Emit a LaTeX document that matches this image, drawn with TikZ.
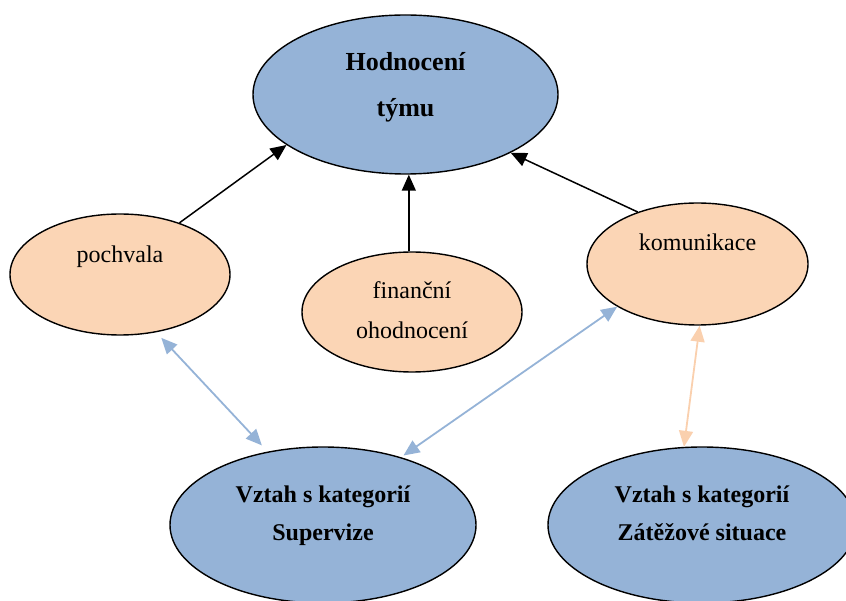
\documentclass[tikz,border=0pt]{standalone}
\usepackage{fontspec}
\setmainfont{Liberation Serif}
\usetikzlibrary{shapes.geometric,arrows.meta}
\definecolor{bluefill}{HTML}{95B3D7}
\definecolor{peachfill}{HTML}{FBD5B5}
\definecolor{peachline}{HTML}{FAD0AE}
\begin{document}
\begin{tikzpicture}[x=1pt,y=-1pt,
  oval/.style={ellipse, draw=black, line width=1.4pt, inner sep=0pt},
  hub/.style={oval, fill=bluefill},
  leaf/.style={oval, fill=peachfill},
  boldlbl/.style={anchor=base, inner sep=0pt, font=\fontsize{24}{28}\selectfont\bfseries},
  titlelbl/.style={anchor=base, inner sep=0pt, font=\fontsize{26}{30}\selectfont\bfseries},
  plainlbl/.style={anchor=base, inner sep=0pt, font=\fontsize{24}{28}\selectfont},
  blackarrow/.style={draw=black, line width=1.5pt, -{Triangle[length=16pt,width=14pt]}},
  bluearrow/.style={draw=bluefill, line width=1.8pt, {Triangle[length=16pt,width=14pt]}-{Triangle[length=16pt,width=14pt]}},
  peacharrow/.style={draw=peachline, line width=1.8pt, {Triangle[length=16pt,width=14pt]}-{Triangle[length=16pt,width=14pt]}}
]
\useasboundingbox (0,0) rectangle (846,601);
\clip (0,0) rectangle (846,601);

% ovals
\node[hub, minimum width=305pt, minimum height=159pt] (team) at (405.5,94.5) {};
\node[leaf, minimum width=220pt, minimum height=121pt] (praise) at (120,274.5) {};
\node[leaf, minimum width=220pt, minimum height=120pt] (finance) at (412,312) {};
\node[leaf, minimum width=221pt, minimum height=122pt] (comm) at (697.5,264) {};
\node[hub, minimum width=306pt, minimum height=156pt] (superv) at (323,525) {};
\node[hub, minimum width=308pt, minimum height=156pt] (stress) at (702,525) {};

% labels
\node[titlelbl] (teamA) at (405.5,71) {Hodnocení};
\node[titlelbl] (teamB) at (405.5,117) {týmu};
\node[plainlbl] (praiseA) at (120,263) {pochvala};
\node[plainlbl] (financeA) at (412,299) {finanční};
\node[plainlbl] (financeB) at (412,339) {ohodnocení};
\node[plainlbl] (commA) at (697.5,251) {komunikace};
\node[boldlbl] (supervA) at (323,502) {Vztah s kategorií};
\node[boldlbl] (supervB) at (323,540) {Supervize};
\node[boldlbl] (stressA) at (702,502) {Vztah s kategorií};
\node[boldlbl] (stressB) at (702,540) {Zátěžové situace};

% connectors
\draw[blackarrow] (praise.41.7) -- (team.203.6);
\draw[blackarrow] (finance.93) -- (finance.93 |- team.south);
\draw[blackarrow] (comm.139.4) -- (team.331.5);
\draw[bluearrow, shorten <=8.5pt, shorten >=7.5pt] (superv.127.3) -- (praise.302.9);
\draw[bluearrow, shorten <=3pt] (superv.41) -- (comm.208.4);
\draw[peacharrow] (comm.272.3) -- (stress.103.8);
\end{tikzpicture}
\end{document}
